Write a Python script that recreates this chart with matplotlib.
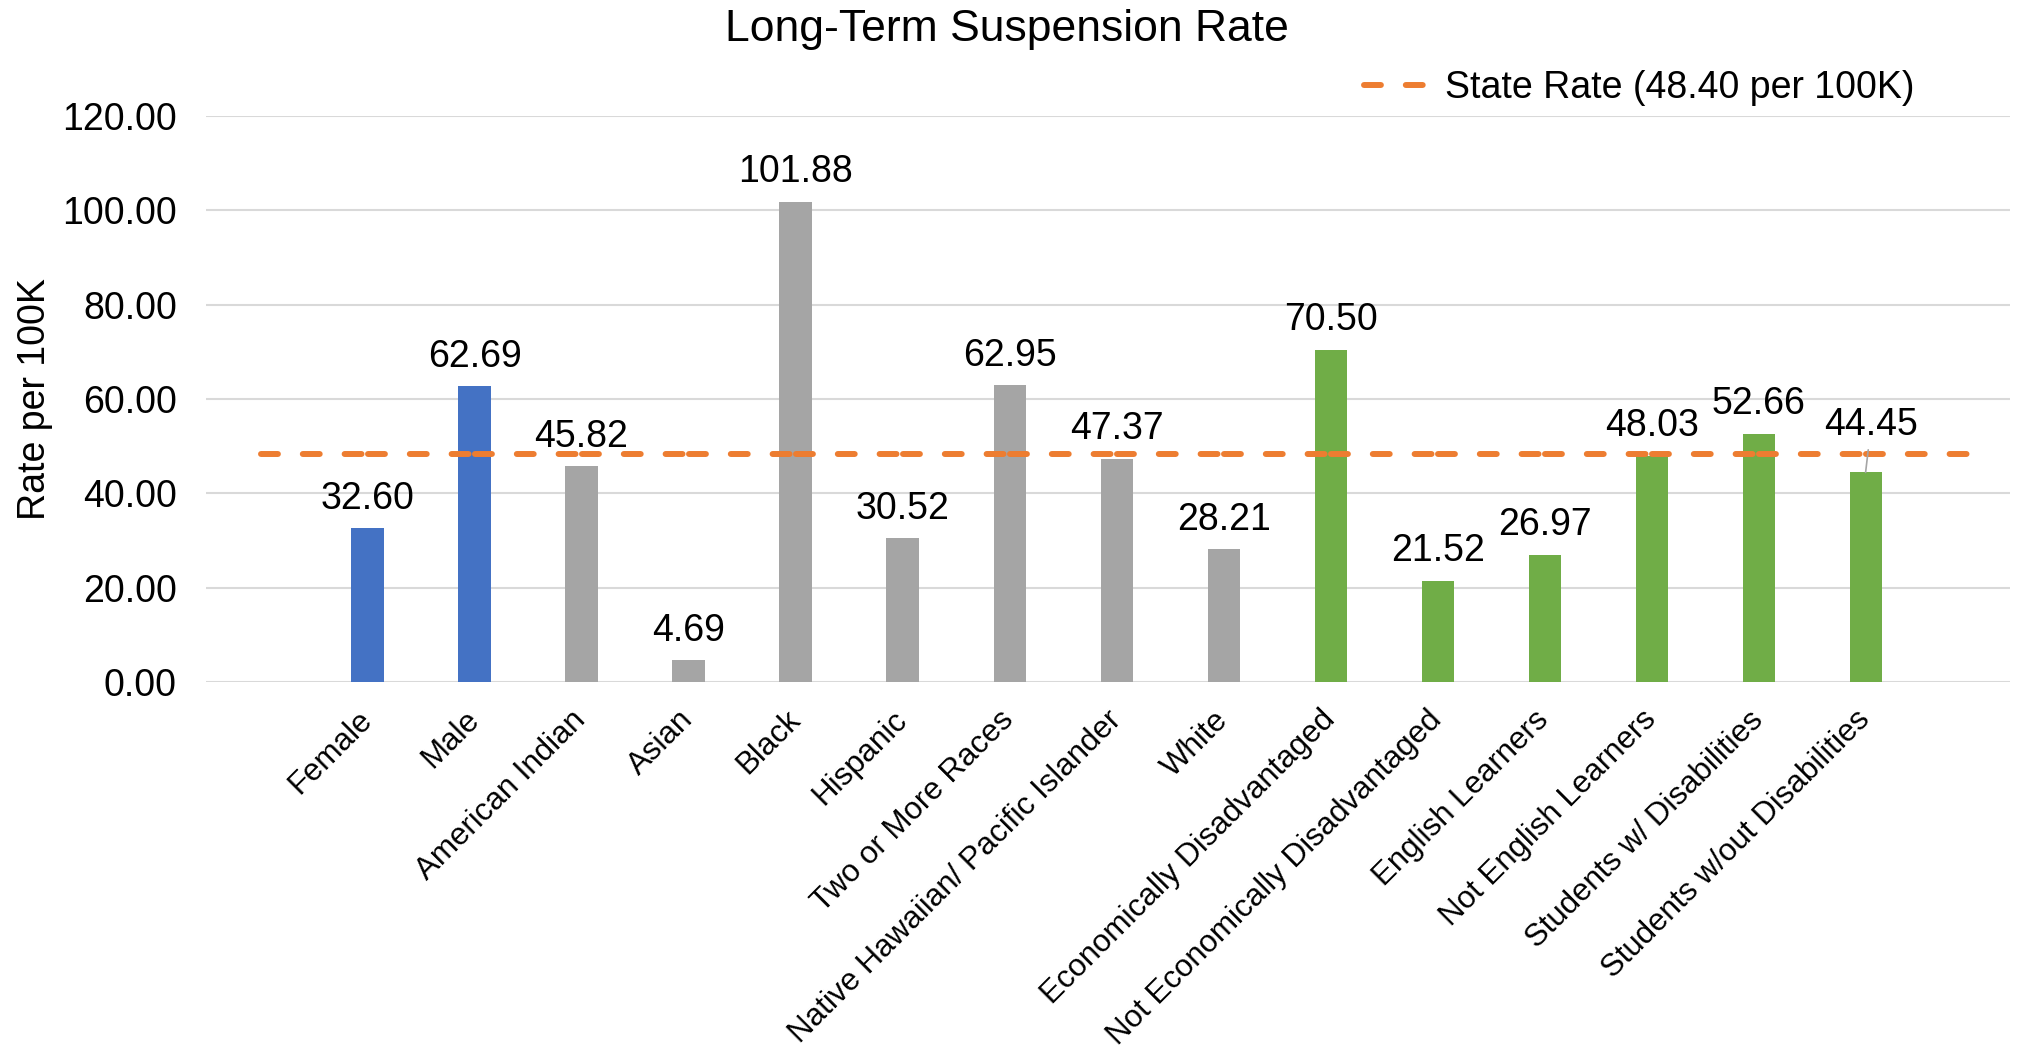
import matplotlib
matplotlib.use("Agg")
import matplotlib.pyplot as plt
import numpy as np

# chart data
categories = ["Female", "Male", "American Indian", "Asian", "Black", "Hispanic",
              "Two or More Races", "Native Hawaiian/ Pacific Islander", "White",
              "Economically Disadvantaged", "Not Economically Disadvantaged",
              "English Learners", "Not English Learners", "Students w/ Disabilities",
              "Students w/out Disabilities"]
rates = [32.60, 62.69, 45.82, 4.69, 101.88, 30.52, 62.95, 47.37, 28.21,
         70.50, 21.52, 26.97, 48.03, 52.66, 44.45]
groups = ["gender"] * 2 + ["race"] * 7 + ["program"] * 6
state_rate = 48.40
y_ticks = [0, 20, 40, 60, 80, 100, 120]

group_colors = {"gender": "#4472C4", "race": "#A5A5A5", "program": "#70AD47"}

plt.rcParams['font.family'] = ['Liberation Sans', 'DejaVu Sans']

fig = plt.figure(figsize=(20.23, 10.51), dpi=100)
ax = fig.add_axes([0.1018, 0.351, 0.8918, 0.5386])

x = np.arange(len(categories))
bars = ax.bar(x, rates, width=0.3, color=[group_colors[g] for g in groups], zorder=2)

# state average line: one point per category slot (plus an empty slot on each side),
# drawn segment by segment so the dash pattern restarts at each point like Excel does
line_x = np.arange(-1, len(categories) + 1)
line_style = dict(color="#ED7D31", lw=4.3, dashes=(2.83, 4.17),
                  dash_capstyle="round", zorder=3)
for i in range(len(line_x) - 1):
    ax.plot(line_x[i:i + 2], [state_rate, state_rate], **line_style,
            label="State Rate (%.2f per 100K)" % state_rate if i == 0 else None)

# value labels
for i, v in enumerate(rates):
    if categories[i] == "Students w/out Disabilities":
        ax.annotate("%.2f" % v, xy=(x[i], v), xytext=(4, 27), textcoords="offset points",
                    ha="center", va="baseline", fontsize=27, zorder=4,
                    arrowprops=dict(arrowstyle="-", color="#A5A5A5", lw=1.2,
                                    shrinkA=3, shrinkB=0))
    else:
        ax.annotate("%.2f" % v, xy=(x[i], v), xytext=(0, 14), textcoords="offset points",
                    ha="center", va="baseline", fontsize=27, zorder=4)

ax.set_xlim(-1.51, 15.35)
ax.set_ylim(0, 120)
ax.set_yticks(y_ticks)
ax.set_yticklabels(["%.2f" % t for t in y_ticks], fontsize=27)
ax.set_xticks(x)
ax.set_xticklabels(categories, rotation=45, ha="right", va="center",
                   rotation_mode="anchor", fontsize=22.5)
ax.tick_params(axis="x", length=0, pad=24)
ax.tick_params(axis="y", length=0, pad=21)
ax.grid(axis="y", color="#D9D9D9", lw=1.5, zorder=0)
for s in ax.spines.values():
    s.set_visible(False)

ax.set_ylabel("Rate per 100K", fontsize=27)
ax.yaxis.set_label_coords(-0.085, 0.5)

fig.text(0.4975, 1 - 30 / 1051, "Long-Term Suspension Rate", fontsize=32,
         ha="center", va="center")

fig.legend(loc="center left", bbox_to_anchor=(1364 / 2023, 1 - 88 / 1051),
           frameon=False, fontsize=27, handlelength=1.76, handletextpad=0.4,
           borderpad=0, borderaxespad=0)

fig.savefig("out.png", dpi=100)
